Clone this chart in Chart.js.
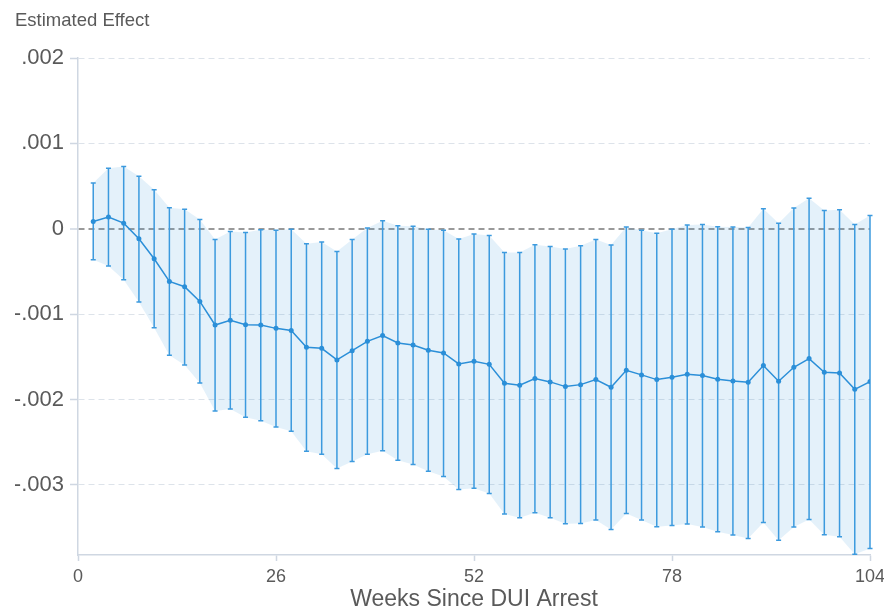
<!DOCTYPE html>
<html>
<head>
<meta charset="utf-8">
<script src="https://cdn.jsdelivr.net/npm/chart.js@4/dist/chart.umd.min.js"></script>
<style>
  html, body { margin: 0; padding: 0; background: #fff; }
  #chart { display: block; }
</style>
</head>
<body>
<canvas id="chart" width="884" height="608"></canvas>
<script>
// Weeks since arrest (x positions of the estimates)
const weeks = [2, 4, 6, 8, 10, 12, 14, 16, 18, 20, 22, 24, 26, 28, 30, 32, 34, 36, 38, 40,
               42, 44, 46, 48, 50, 52, 54, 56, 58, 60, 62, 64, 66, 68, 70, 72, 74, 76, 78, 80,
               82, 84, 86, 88, 90, 92, 94, 96, 98, 100, 102, 104];

// Point estimates
const estimate = [0.000085, 0.000137, 0.000066, -0.000117, -0.000351, -0.000616, -0.000678, -0.000850, -0.001127, -0.001072,
                  -0.001123, -0.001127, -0.001166, -0.001191, -0.001388, -0.001400, -0.001536, -0.001427, -0.001318, -0.001251,
                  -0.001337, -0.001360, -0.001423, -0.001454, -0.001583, -0.001552, -0.001587, -0.001809, -0.001832, -0.001754,
                  -0.001793, -0.001848, -0.001825, -0.001766, -0.001856, -0.001657, -0.001711, -0.001766, -0.001739, -0.001704,
                  -0.001719, -0.001762, -0.001781, -0.001797, -0.001602, -0.001786, -0.001622, -0.001520, -0.001681, -0.001688,
                  -0.001880, -0.001789];

// Confidence interval bounds
const ciUpper = [0.000535, 0.000710, 0.000729, 0.000616, 0.000456, 0.000246, 0.000230, 0.000109, -0.000125, -0.000031,
                 -0.000043, -0.000012, -0.000016, -0.000006, -0.000175, -0.000156, -0.000265, -0.000125, 0.000008, 0.000094,
                 0.000035, 0.000031, -0.000004, -0.000016, -0.000121, -0.000062, -0.000080, -0.000277, -0.000277, -0.000187,
                 -0.000207, -0.000238, -0.000199, -0.000125, -0.000191, 0.000020, -0.000016, -0.000051, -0.000006, 0.000043,
                 0.000050, 0.000023, 0.000020, 0.000016, 0.000234, 0.000066, 0.000242, 0.000359, 0.000214, 0.000222,
                 0.000050, 0.000156];

const ciLower = [-0.000363, -0.000436, -0.000596, -0.000857, -0.001158, -0.001481, -0.001594, -0.001805, -0.002133, -0.002109,
                 -0.002207, -0.002249, -0.002320, -0.002372, -0.002604, -0.002640, -0.002807, -0.002725, -0.002640, -0.002600,
                 -0.002710, -0.002760, -0.002838, -0.002901, -0.003053, -0.003037, -0.003100, -0.003341, -0.003384, -0.003326,
                 -0.003384, -0.003454, -0.003450, -0.003411, -0.003520, -0.003333, -0.003411, -0.003489, -0.003475, -0.003458,
                 -0.003493, -0.003548, -0.003587, -0.003626, -0.003439, -0.003646, -0.003493, -0.003404, -0.003583, -0.003606,
                 -0.003810, -0.003743];

// Axis ticks
const xTicks = [0, 26, 52, 78, 104];
const yTicks = [-0.003, -0.002, -0.001, 0, 0.001, 0.002];

const blue = '#2b8fd8';
const spikeBlue = '#3c9ade';
const textGray = '#5a5a5a';
const axisGray = '#cfd7e2';
const font = "'Liberation Sans', Arial, sans-serif";

const toPoints = arr => weeks.map((w, i) => ({ x: w, y: arr[i] }));

// Draw the vertical CI spikes with small caps, under the estimate line
const ciSpikes = {
    id: 'ciSpikes',
    beforeDatasetDraw(chart, args) {
        if (args.index !== 0) return;
        const { ctx, scales: { x, y } } = chart;
        ctx.save();
        ctx.strokeStyle = spikeBlue;
        ctx.lineWidth = 1.5;
        weeks.forEach((w, i) => {
            const px = x.getPixelForValue(w);
            const top = y.getPixelForValue(ciUpper[i]);
            const bot = y.getPixelForValue(ciLower[i]);
            ctx.beginPath();
            ctx.moveTo(px, top);
            ctx.lineTo(px, bot);
            ctx.moveTo(px - 2.5, top);
            ctx.lineTo(px + 2.5, top);
            ctx.moveTo(px - 2.5, bot);
            ctx.lineTo(px + 2.5, bot);
            ctx.stroke();
        });
        ctx.restore();
    }
};

new Chart(document.getElementById('chart'), {
    type: 'line',
    data: {
        datasets: [
            {
                label: 'Estimate',
                data: toPoints(estimate),
                borderColor: blue,
                backgroundColor: blue,
                borderWidth: 1.5,
                pointRadius: 2.5,
                pointBorderWidth: 0,
                tension: 0,
                fill: false
            },
            {
                label: 'Upper',
                data: toPoints(ciUpper),
                borderWidth: 0,
                pointRadius: 0,
                fill: false
            },
            {
                label: 'Lower',
                data: toPoints(ciLower),
                borderWidth: 0,
                pointRadius: 0,
                backgroundColor: 'rgba(49, 145, 214, 0.13)',
                fill: '-1'
            }
        ]
    },
    options: {
        responsive: false,
        animation: false,
        layout: { padding: { left: 15, right: 14, top: 0, bottom: 0 } },
        plugins: {
            legend: { display: false },
            tooltip: { enabled: false },
            title: {
                display: true,
                text: 'Estimated Effect',
                align: 'start',
                color: textGray,
                font: { family: font, size: 18.5, weight: 'normal' },
                padding: { top: 9.9, bottom: 25.9 }
            }
        },
        scales: {
            x: {
                type: 'linear',
                min: 0,
                max: 104,
                afterBuildTicks: scale => { scale.ticks = xTicks.map(v => ({ value: v })); },
                afterFit: scale => {
                    scale.height = 53;
                    // let the last label hang into the right margin
                    scale.paddingLeft = 0;
                    scale.paddingRight = 0;
                },
                ticks: {
                    color: textGray,
                    font: { family: font, size: 18 },
                    padding: 5,
                    maxRotation: 0
                },
                grid: {
                    drawOnChartArea: false,
                    drawTicks: true,
                    tickLength: 6,
                    tickColor: axisGray,
                    tickWidth: 1.5
                },
                border: { color: axisGray, width: 1.5 },
                title: {
                    display: true,
                    text: 'Weeks Since DUI Arrest',
                    color: textGray,
                    font: { family: font, size: 23, lineHeight: 1 },
                    padding: { top: 0, bottom: -3 }
                }
            },
            y: {
                type: 'linear',
                min: -0.00382,
                max: 0.002,
                afterBuildTicks: scale => { scale.ticks = yTicks.map(v => ({ value: v })); },
                afterFit: scale => { scale.width = 63; },
                ticks: {
                    color: textGray,
                    font: { family: font, size: 22 },
                    padding: 6,
                    callback: v => v === 0 ? '0' : v.toFixed(3).replace('0.', '.')
                },
                grid: {
                    color: ctx => ctx.tick && ctx.tick.value === 0 ? '#9a9a9a' : '#dde3ea',
                    lineWidth: ctx => ctx.tick && ctx.tick.value === 0 ? 2 : 1,
                    drawTicks: true,
                    tickLength: 8,
                    tickColor: axisGray,
                    tickWidth: 1.5
                },
                border: { color: axisGray, width: 1.5, dash: [6, 4] }
            }
        }
    },
    plugins: [ciSpikes]
});
</script>
</body>
</html>
